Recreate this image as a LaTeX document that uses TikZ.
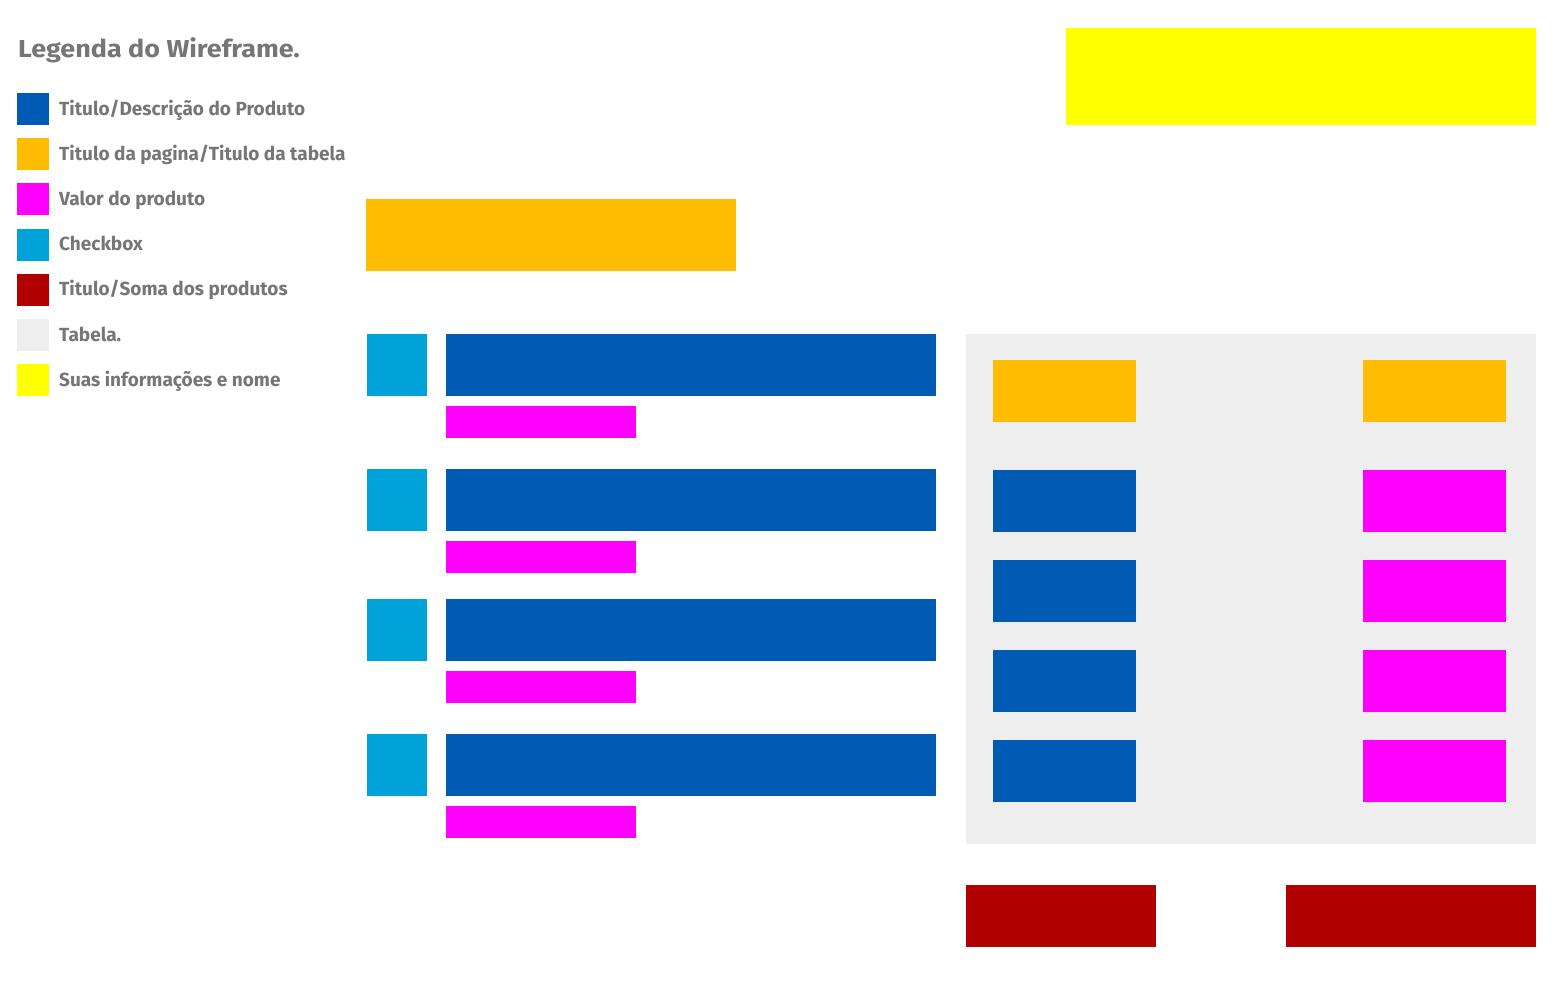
\documentclass[tikz,border=0pt]{standalone}
\usepackage{fontspec}
\setmainfont{Fira Sans}
\newfontfamily\titlefont[FakeStretch=1.1]{Fira Sans}
\definecolor{cblue}{RGB}{0,91,181}
\definecolor{corange}{RGB}{255,188,0}
\definecolor{cmag}{RGB}{255,0,255}
\definecolor{ccyan}{RGB}{0,162,218}
\definecolor{cred}{RGB}{176,0,0}
\definecolor{cgray}{RGB}{238,238,238}
\definecolor{cyel}{RGB}{255,255,0}
\definecolor{ctext}{RGB}{118,118,118}
\tikzset{
  blk/.style={inner sep=0pt, outer sep=0pt, draw=none},
  legtext/.style={anchor=base west, inner sep=0pt, text=ctext, font=\fontsize{19}{22}\selectfont\bfseries},
}
\begin{document}
\begin{tikzpicture}[x=1pt,y=-1pt]
\useasboundingbox (0,0) rectangle (1559,1005);
\fill[white] (0,0) rectangle (1559,1005);
% legend
\node[legtext, font=\titlefont\fontsize{24.5}{28}\selectfont\bfseries] (title) at (18,57) {Legenda do Wireframe.};
\foreach \i/\c/\t in {0/cblue/{Titulo/Descrição do Produto},1/corange/{Titulo da pagina/Titulo da tabela},2/cmag/{Valor do produto},3/ccyan/{Checkbox},4/cred/{Titulo/Soma dos produtos},5/cgray/{Tabela.},6/cyel/{Suas informações e nome}}{
  \node[blk, fill=\c, minimum width=32pt, minimum height=32pt, anchor=north west] (sw\i) at (17,{93+45.2*\i}) {};
  \node[legtext] (lt\i) at (59,{115+45.2*\i}) {\t};
}
% yellow info
\node[blk, fill=cyel, minimum width=470pt, minimum height=97pt, anchor=north west] (info) at (1066,28) {};
% page title
\node[blk, fill=corange, minimum width=370pt, minimum height=72pt, anchor=north west] (ptitle) at (366,199) {};
% products
\foreach \i/\y/\m in {1/334/406, 2/469/541, 3/599/671, 4/734/806}{
  \node[blk, fill=ccyan, minimum width=60pt, minimum height=62pt, anchor=north west] (cb\i) at (367,\y) {};
  \node[blk, fill=cblue, minimum width=490pt, minimum height=62pt, anchor=north west] (pd\i) at (446,\y) {};
  \node[blk, fill=cmag, minimum width=190pt, minimum height=32pt, anchor=north west] (pv\i) at (446,\m) {};
}
% table
\node[blk, fill=cgray, minimum width=570pt, minimum height=510pt, anchor=north west] (table) at (966,334) {};
\node[blk, fill=corange, minimum width=143pt, minimum height=62pt, anchor=north west] (th1) at (993,360) {};
\node[blk, fill=corange, minimum width=143pt, minimum height=62pt, anchor=north west] (th2) at (1363,360) {};
\foreach \i/\y in {1/470, 2/560, 3/650, 4/740}{
  \node[blk, fill=cblue, minimum width=143pt, minimum height=62pt, anchor=north west] (tn\i) at (993,\y) {};
  \node[blk, fill=cmag, minimum width=143pt, minimum height=62pt, anchor=north west] (tv\i) at (1363,\y) {};
}
% totals
\node[blk, fill=cred, minimum width=190pt, minimum height=62pt, anchor=north west] (tot1) at (966,885) {};
\node[blk, fill=cred, minimum width=250pt, minimum height=62pt, anchor=north west] (tot2) at (1286,885) {};
\end{tikzpicture}
\end{document}
